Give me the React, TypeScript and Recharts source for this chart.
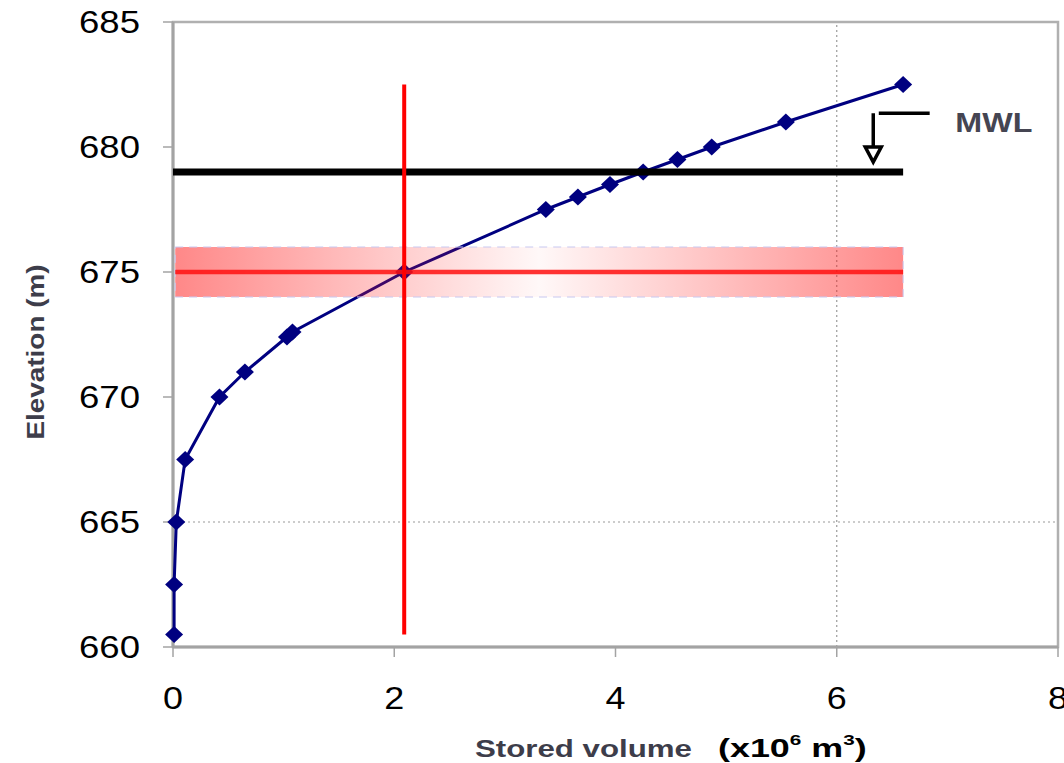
import React from 'react'
import {
  ComposedChart,
  Scatter,
  XAxis,
  YAxis,
  ReferenceLine,
  ReferenceArea,
  ReferenceDot,
  Label,
} from 'recharts'

// storage curve
const volume = [0.01, 0.01, 0.03, 0.11, 0.42, 0.65, 1.03, 1.08, 2.09, 3.37, 3.66, 3.95, 4.25, 4.56, 4.87, 5.54, 6.6]
const elevation = [660.5, 662.5, 665, 667.5, 670, 671, 672.4, 672.6, 675, 677.5, 678, 678.5, 679, 679.5, 680, 681, 682.5]

const xTicks = [0, 2, 4, 6, 8]
const yTicks = [660, 665, 670, 675, 680, 685]

const mwlLevel = 679
const designLevel = 675
const bandLow = 674
const bandHigh = 676
const designVolume = 2.09
const linesStart = 0.02
const linesEnd = 6.6
const verticalBottom = 660.5
const verticalTop = 682.5

// MWL callout, in data units
const arrowX = 6.33
const arrowTop = 681.35
const arrowTip = 679.4
const leaderEnd = 6.84
const mwlTextX = 7.42
const mwlTextY = 681.0

const curve = volume.map((v, i) => ({ x: v, y: elevation[i] }))

const FONT = '"Liberation Sans", Arial, sans-serif'
const TITLE = '#3d3d4a'

function YTick({ x, y, payload }: any) {
  return (
    <text x={x} y={y} dy="0.36em" textAnchor="end" fontSize={31} fontFamily={FONT} fill="#000"
      textLength={61} lengthAdjust="spacingAndGlyphs">
      {payload.value}
    </text>
  )
}

function XTick({ x, y, payload }: any) {
  return (
    <text x={x} y={y} dy="0.71em" textAnchor="middle" fontSize={31} fontFamily={FONT} fill="#000"
      textLength={20} lengthAdjust="spacingAndGlyphs">
      {payload.value}
    </text>
  )
}

function Diamond({ cx, cy }: any) {
  return <path d={`M${cx},${cy - 8.5} L${cx + 9},${cy} L${cx},${cy + 8.5} L${cx - 9},${cy} Z`} fill="#000080" />
}

function ArrowHead({ cx, cy }: any) {
  return (
    <polygon points={`${cx - 8},${cy - 15} ${cx + 8},${cy - 15} ${cx},${cy}`}
      fill="#fff" stroke="#000" strokeWidth={3.5} strokeLinejoin="miter" />
  )
}

function MwlText({ cx, cy }: any) {
  return (
    <text x={cx} y={cy} dy="0.36em" textAnchor="middle" fontSize={27} fontWeight="bold" fontFamily={FONT}
      fill="#454552" textLength={77} lengthAdjust="spacingAndGlyphs">
      MWL
    </text>
  )
}

function XTitle({ viewBox }: any) {
  const x0 = viewBox.x + 302
  const base = 757
  return (
    <g fontFamily={FONT} fontWeight="bold">
      <text x={x0} y={base} fontSize={24} fill={TITLE} textLength={217} lengthAdjust="spacingAndGlyphs">
        Stored volume
      </text>
      <g transform={`translate(${x0 + 243},${base}) scale(1.38,1)`}>
        <text x={0} y={0} fontSize={26} fill="#000">
          (x10
          <tspan fontSize={15} dy={-12}>6</tspan>
          <tspan dy={12}> m</tspan>
          <tspan fontSize={15} dy={-12}>3</tspan>
          <tspan dy={12}>)</tspan>
        </text>
      </g>
    </g>
  )
}

function YTitle() {
  return (
    <text x={0} y={0} transform="translate(44,352) rotate(-90)" textAnchor="middle" fontSize={24}
      fontWeight="bold" fontFamily={FONT} fill={TITLE} textLength={175} lengthAdjust="spacingAndGlyphs">
      Elevation (m)
    </text>
  )
}

export default function App() {
  return (
    <div style={{ position: 'absolute', left: 0, top: 0, background: '#fff' }}>
      <ComposedChart width={1064} height={763} margin={{ top: 22, right: 6, left: 113, bottom: 66 }}>
        <defs>
          <linearGradient id="bandFill" x1="0" y1="0" x2="1" y2="0">
            <stop offset="0%" stopColor="#ff1a1a" stopOpacity={0.52} />
            <stop offset="50%" stopColor="#ff1a1a" stopOpacity={0.03} />
            <stop offset="100%" stopColor="#ff1a1a" stopOpacity={0.52} />
          </linearGradient>
        </defs>
        <XAxis
          type="number"
          dataKey="x"
          domain={[0, 8]}
          ticks={xTicks}
          interval={0}
          height={50}
          tick={<XTick />}
          tickSize={10}
          tickMargin={30}
          axisLine={{ stroke: '#a3a3a3', strokeWidth: 3 }}
          tickLine={{ stroke: '#a3a3a3', strokeWidth: 1.5 }}
        >
          <Label content={<XTitle />} />
        </XAxis>
        <YAxis
          type="number"
          dataKey="y"
          domain={[660, 685]}
          ticks={yTicks}
          interval={0}
          width={60}
          tick={<YTick />}
          tickSize={10}
          tickMargin={23}
          axisLine={{ stroke: '#a3a3a3', strokeWidth: 3 }}
          tickLine={{ stroke: '#a3a3a3', strokeWidth: 1.5 }}
        >
          <Label content={<YTitle />} />
        </YAxis>

        <ReferenceArea x1={0} x2={8} y1={660} y2={685} fill="none" stroke="#b0b0b0" strokeWidth={2.5} />
        <ReferenceLine x={6} stroke="#9a9a9a" strokeDasharray="2 3" strokeWidth={1.2} />
        <ReferenceLine y={665} stroke="#9a9a9a" strokeDasharray="2 3" strokeWidth={1.2} />

        <Scatter
          data={curve}
          line={{ stroke: '#000080', strokeWidth: 3 }}
          lineJointType="linear"
          shape={<Diamond />}
          fill="#000080"
          isAnimationActive={false}
        />

        <ReferenceLine
          segment={[{ x: 0, y: mwlLevel }, { x: linesEnd, y: mwlLevel }]}
          stroke="#000"
          strokeWidth={7}
          zIndex={700}
        />
        <ReferenceArea
          x1={linesStart}
          x2={linesEnd}
          y1={bandLow}
          y2={bandHigh}
          fill="url(#bandFill)"
          fillOpacity={1}
          stroke="#c8c8f0"
          strokeDasharray="8 6"
          strokeWidth={1}
          zIndex={710}
        />
        <ReferenceLine
          segment={[{ x: linesStart, y: designLevel }, { x: linesEnd, y: designLevel }]}
          stroke="#ff1010"
          strokeOpacity={0.85}
          strokeWidth={4.5}
          zIndex={720}
        />
        <ReferenceLine
          segment={[{ x: designVolume, y: verticalBottom }, { x: designVolume, y: verticalTop }]}
          stroke="#ff0000"
          strokeWidth={4}
          zIndex={720}
        />

        <ReferenceLine
          segment={[{ x: arrowX, y: arrowTop }, { x: arrowX, y: arrowTip + 0.3 }]}
          stroke="#000"
          strokeWidth={3.5}
        />
        <ReferenceLine
          segment={[{ x: arrowX + 0.05, y: arrowTop }, { x: leaderEnd, y: arrowTop }]}
          stroke="#000"
          strokeWidth={3.5}
        />
        <ReferenceDot x={arrowX} y={arrowTip} shape={<ArrowHead />} />
        <ReferenceDot x={mwlTextX} y={mwlTextY} shape={<MwlText />} />
      </ComposedChart>
    </div>
  )
}
